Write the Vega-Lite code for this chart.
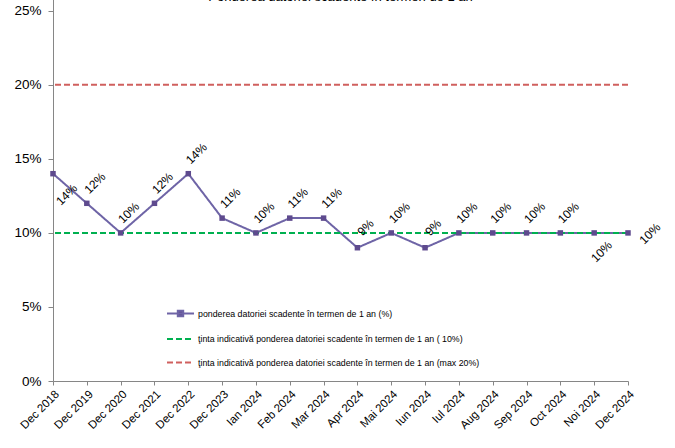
{
  "$schema": "https://vega.github.io/schema/vega-lite/v6.json",
  "width": 575,
  "height": 385,
  "autosize": {"type": "none"},
  "padding": {"left": 53, "top": -4, "right": 47, "bottom": 67},
  "background": "white",
  "title": {"text": "Ponderea datoriei scadente în termen de 1 an", "anchor": "middle", "font": "Liberation Sans", "fontSize": 13, "fontWeight": "normal", "color": "#000000", "offset": 4, "dy": 12},
  "config": {"view": {"stroke": null}, "font": "Liberation Sans"},
  "datasets": {
    "main": [
      {"luna": "Dec 2018", "pondere": 0.14, "serie": "ponderea datoriei scadente în termen de 1 an (%)"},
      {"luna": "Dec 2019", "pondere": 0.12, "serie": "ponderea datoriei scadente în termen de 1 an (%)"},
      {"luna": "Dec 2020", "pondere": 0.10, "serie": "ponderea datoriei scadente în termen de 1 an (%)"},
      {"luna": "Dec 2021", "pondere": 0.12, "serie": "ponderea datoriei scadente în termen de 1 an (%)"},
      {"luna": "Dec 2022", "pondere": 0.14, "serie": "ponderea datoriei scadente în termen de 1 an (%)"},
      {"luna": "Dec 2023", "pondere": 0.11, "serie": "ponderea datoriei scadente în termen de 1 an (%)"},
      {"luna": "Ian 2024", "pondere": 0.10, "serie": "ponderea datoriei scadente în termen de 1 an (%)"},
      {"luna": "Feb 2024", "pondere": 0.11, "serie": "ponderea datoriei scadente în termen de 1 an (%)"},
      {"luna": "Mar 2024", "pondere": 0.11, "serie": "ponderea datoriei scadente în termen de 1 an (%)"},
      {"luna": "Apr 2024", "pondere": 0.09, "serie": "ponderea datoriei scadente în termen de 1 an (%)"},
      {"luna": "Mai 2024", "pondere": 0.10, "serie": "ponderea datoriei scadente în termen de 1 an (%)"},
      {"luna": "Iun 2024", "pondere": 0.09, "serie": "ponderea datoriei scadente în termen de 1 an (%)"},
      {"luna": "Iul 2024", "pondere": 0.10, "serie": "ponderea datoriei scadente în termen de 1 an (%)"},
      {"luna": "Aug 2024", "pondere": 0.10, "serie": "ponderea datoriei scadente în termen de 1 an (%)"},
      {"luna": "Sep 2024", "pondere": 0.10, "serie": "ponderea datoriei scadente în termen de 1 an (%)"},
      {"luna": "Oct 2024", "pondere": 0.10, "serie": "ponderea datoriei scadente în termen de 1 an (%)"},
      {"luna": "Noi 2024", "pondere": 0.10, "serie": "ponderea datoriei scadente în termen de 1 an (%)"},
      {"luna": "Dec 2024", "pondere": 0.10, "serie": "ponderea datoriei scadente în termen de 1 an (%)"}
    ],
    "tinte": [
      {"serie": "ţinta indicativă ponderea datoriei scadente în termen de 1 an (  10%)", "valoare": 0.10},
      {"serie": "ţinta indicativă ponderea datoriei scadente în termen de 1 an (max 20%)", "valoare": 0.20}
    ]
  },
  "layer": [
    {
      "data": {"name": "main"},
      "mark": {"type": "line", "strokeWidth": 2},
      "encoding": {
        "x": {"field": "luna", "type": "nominal", "sort": null, "scale": {"type": "point", "padding": 0},
          "axis": {"title": null, "labelAngle": -45, "labelFont": "Liberation Sans", "labelFontSize": 11.5, "labelColor": "#000000", "domainColor": "#868686", "tickColor": "#868686", "tickSize": 4, "labelPadding": 3, "grid": false}},
        "y": {"field": "pondere", "type": "quantitative", "scale": {"domain": [0, 0.25]},
          "axis": {"title": null, "values": [0, 0.05, 0.10, 0.15, 0.20, 0.25], "format": ".0%", "labelFont": "Liberation Sans", "labelFontSize": 13.5, "labelColor": "#000000", "domainColor": "#868686", "tickColor": "#868686", "tickSize": 5, "labelPadding": 7, "grid": false}},
        "color": {"field": "serie", "type": "nominal",
          "scale": {"domain": ["ponderea datoriei scadente în termen de 1 an (%)", "ţinta indicativă ponderea datoriei scadente în termen de 1 an (  10%)", "ţinta indicativă ponderea datoriei scadente în termen de 1 an (max 20%)"], "range": ["#6E64A6", "#00B050", "#D0605E"]},
          "legend": {"orient": "none", "legendX": 113, "legendY": 303, "title": null, "symbolType": "stroke", "symbolSize": 729, "symbolStrokeWidth": 2, "labelFont": "Liberation Sans", "labelFontSize": 8.8, "labelColor": "#000000", "labelLimit": 500, "rowPadding": 3.5, "labelOffset": 3,
            "encode": {"symbols": {"update": {"shape": {"signal": "datum.index === 0 ? 'M-1,0L1,0M-0.2,-0.2L0.2,-0.2L0.2,0.2L-0.2,0.2Z' : 'stroke'"}, "fill": {"signal": "datum.index === 0 ? '#5E4A8E' : 'transparent'"}}}}}},
        "strokeDash": {"field": "serie", "type": "nominal",
          "scale": {"domain": ["ponderea datoriei scadente în termen de 1 an (%)", "ţinta indicativă ponderea datoriei scadente în termen de 1 an (  10%)", "ţinta indicativă ponderea datoriei scadente în termen de 1 an (max 20%)"], "range": [[1, 0], [6, 3], [6, 3]]}}
      }
    },
    {
      "data": {"name": "tinte"},
      "mark": {"type": "rule", "strokeWidth": 2},
      "encoding": {
        "y": {"field": "valoare", "type": "quantitative"},
        "color": {"field": "serie", "type": "nominal"},
        "strokeDash": {"field": "serie", "type": "nominal"}
      }
    },
    {
      "data": {"name": "main"},
      "mark": {"type": "square", "size": 30, "color": "#5E4A8E", "opacity": 1, "filled": true},
      "encoding": {
        "x": {"field": "luna", "type": "nominal", "sort": null},
        "y": {"field": "pondere", "type": "quantitative"}
      }
    },
    {
      "data": {"name": "main"},
      "transform": [{"filter": "datum.luna !== 'Dec 2018' && datum.luna !== 'Noi 2024' && datum.luna !== 'Dec 2024'"}],
      "mark": {"type": "text", "angle": -45, "align": "center", "baseline": "middle", "dx": 20, "dy": -8.5, "font": "Liberation Sans", "fontSize": 12, "color": "#000000"},
      "encoding": {
        "x": {"field": "luna", "type": "nominal", "sort": null},
        "y": {"field": "pondere", "type": "quantitative"},
        "text": {"field": "pondere", "type": "quantitative", "format": ".0%"}
      }
    },
    {
      "data": {"name": "main"},
      "transform": [{"filter": "datum.luna === 'Dec 2018'"}],
      "mark": {"type": "text", "angle": -45, "align": "center", "baseline": "middle", "dx": -5, "dy": 24.5, "font": "Liberation Sans", "fontSize": 12, "color": "#000000"},
      "encoding": {
        "x": {"field": "luna", "type": "nominal", "sort": null},
        "y": {"field": "pondere", "type": "quantitative"},
        "text": {"field": "pondere", "type": "quantitative", "format": ".0%"}
      }
    },
    {
      "data": {"name": "main"},
      "transform": [{"filter": "datum.luna === 'Noi 2024'"}],
      "mark": {"type": "text", "angle": -45, "align": "center", "baseline": "middle", "dx": -8, "dy": 18.5, "font": "Liberation Sans", "fontSize": 12, "color": "#000000"},
      "encoding": {
        "x": {"field": "luna", "type": "nominal", "sort": null},
        "y": {"field": "pondere", "type": "quantitative"},
        "text": {"field": "pondere", "type": "quantitative", "format": ".0%"}
      }
    },
    {
      "data": {"name": "main"},
      "transform": [{"filter": "datum.luna === 'Dec 2024'"}],
      "mark": {"type": "text", "angle": -45, "align": "center", "baseline": "middle", "dx": 15, "dy": 16, "font": "Liberation Sans", "fontSize": 12, "color": "#000000"},
      "encoding": {
        "x": {"field": "luna", "type": "nominal", "sort": null},
        "y": {"field": "pondere", "type": "quantitative"},
        "text": {"field": "pondere", "type": "quantitative", "format": ".0%"}
      }
    }
  ]
}
